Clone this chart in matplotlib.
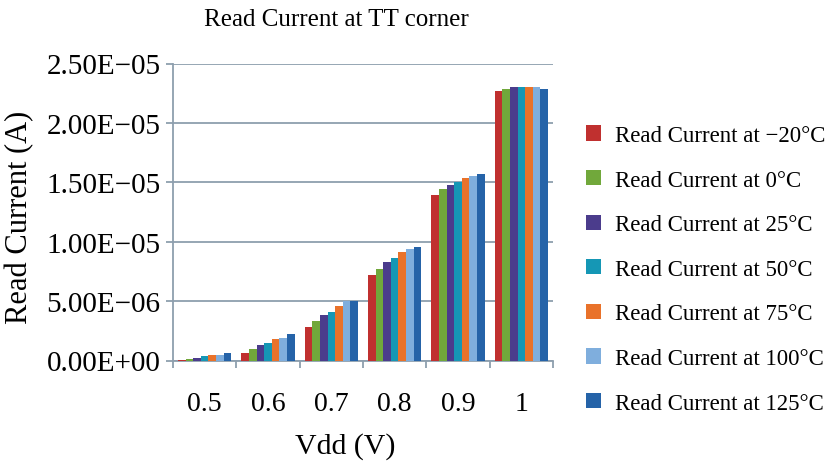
import matplotlib
matplotlib.use("Agg")
import matplotlib.pyplot as plt
import numpy as np

# data (current in A)
vdd = ["0.5", "0.6", "0.7", "0.8", "0.9", "1"]
temps = ["\u221220\u00b0C", "0\u00b0C", "25\u00b0C", "50\u00b0C", "75\u00b0C", "100\u00b0C", "125\u00b0C"]
i_m20 = [3e-8, 6.7e-7, 2.86e-6, 7.20e-6, 1.395e-5, 2.271e-5]
i_0 = [1.4e-7, 9.8e-7, 3.34e-6, 7.66e-6, 1.440e-5, 2.288e-5]
i_25 = [2.0e-7, 1.30e-6, 3.79e-6, 8.30e-6, 1.474e-5, 2.303e-5]
i_50 = [3.4e-7, 1.46e-6, 4.10e-6, 8.60e-6, 1.500e-5, 2.303e-5]
i_75 = [5.0e-7, 1.77e-6, 4.58e-6, 9.10e-6, 1.536e-5, 2.303e-5]
i_100 = [5.0e-7, 1.90e-6, 4.97e-6, 9.40e-6, 1.553e-5, 2.300e-5]
i_125 = [6.5e-7, 2.20e-6, 5.00e-6, 9.58e-6, 1.567e-5, 2.288e-5]
series = [i_m20, i_0, i_25, i_50, i_75, i_100, i_125]
y_ticks = [0, 5e-6, 1e-5, 1.5e-5, 2e-5, 2.5e-5]

colors = ["#c0302f", "#71a83b", "#4b3c8c", "#1597b5", "#e9722a", "#7faedd", "#2563a8"]
grid_col = "#8e9fae"
font = "Liberation Serif"

fig = plt.figure(figsize=(8.31, 4.64), dpi=100)
ax = fig.add_axes([173 / 831, 1 - 361.5 / 464, 380 / 831, 297 / 464])

x = np.arange(len(vdd))
bw = 0.1207
handles = []
for k, (vals, col) in enumerate(zip(series, colors)):
    off = (k - 3) * bw
    b = ax.bar(x + off, vals, width=bw, color=col, zorder=3, linewidth=0)
    handles.append(b)

ax.set_xlim(-0.5, len(vdd) - 0.5)
ax.set_ylim(0, 2.5e-5)
ax.set_yticks(y_ticks)
ax.set_yticklabels([f"{v:.2E}".replace("-", "\u2212") for v in y_ticks],
                   fontfamily=font, fontsize=21)
ax.yaxis.grid(True, color=grid_col, linewidth=1.3, zorder=0)

ax.set_xticks(np.arange(len(vdd) + 1) - 0.5)
ax.set_xticklabels([])
ax.set_xticks(x, minor=True)
ax.set_xticklabels(vdd, minor=True, fontfamily=font, fontsize=20)
ax.tick_params(axis="x", which="minor", length=0, pad=22)
ax.tick_params(axis="both", which="major", direction="out", length=5,
               color=grid_col, width=1.3)
ax.tick_params(axis="y", pad=4)

for s in ["top", "right"]:
    ax.spines[s].set_visible(False)
for s in ["left", "bottom"]:
    ax.spines[s].set_color(grid_col)
    ax.spines[s].set_linewidth(1.3)

fig.text(336 / 831, 1 - 20 / 464, "Read Current at TT corner", fontfamily=font,
         fontsize=18, ha="center", va="center")
fig.text(345 / 831, 1 - 447 / 464, "Vdd (V)", fontfamily=font,
         fontsize=21.5, ha="center", va="center")
fig.text(20 / 831, 1 - 217 / 464, "Read Current (A)", fontfamily=font,
         fontsize=22, ha="center", va="center", rotation=90)

leg = fig.legend(handles, ["Read Current at " + t for t in temps],
                 loc="upper left", bbox_to_anchor=(586 / 831, 1 - 126 / 464),
                 frameon=False, prop={"family": font, "size": 16.5},
                 handlelength=0.65, handleheight=0.65, handletextpad=0.6,
                 labelspacing=1.03, borderpad=0, borderaxespad=0)

fig.savefig("out.png", dpi=100)
